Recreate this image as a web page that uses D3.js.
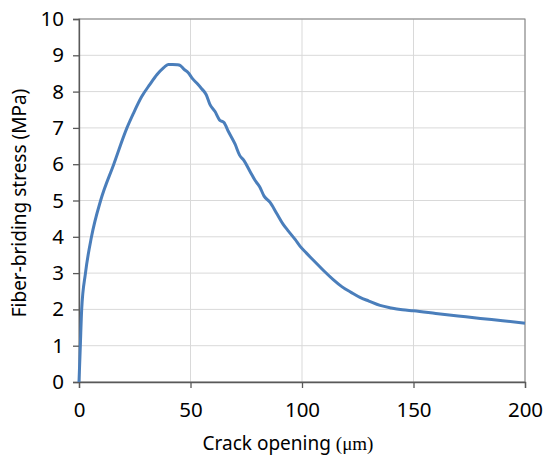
<!DOCTYPE html>
<html>
<head>
<meta charset="utf-8">
<script src="https://cdn.jsdelivr.net/npm/d3@7"></script>
<style>
  body { margin: 0; background: #fff; }
  text { font-family: "Noto Sans", "Noto Sans CJK KR", sans-serif; fill: #000; }
</style>
</head>
<body>
<div id="chart"></div>
<script>
// crack opening (um) vs fiber-bridging stress (MPa)
const openingX = [0, 0.6, 1.2, 2.9, 5.6, 9.7, 15.6, 21.5, 24.4, 28, 31.8, 35, 38, 40, 42, 44, 45.3, 47, 49,
  51, 53, 55, 57, 58.7, 61, 63, 65, 67, 70, 72, 74, 76.7, 79, 81, 83, 85.7, 88.6, 91.5, 94, 97, 99,
  102, 106, 110, 114, 118, 122, 126, 130, 135, 140, 145, 150, 160, 170, 180, 190, 200];
const stressY = [0, 1, 2, 3, 4, 5, 6, 7, 7.4, 7.85, 8.2, 8.47, 8.66, 8.75, 8.75, 8.74, 8.72, 8.62, 8.52,
  8.35, 8.22, 8.08, 7.92, 7.65, 7.45, 7.22, 7.15, 6.9, 6.55, 6.25, 6.1, 5.8, 5.55, 5.38, 5.12, 4.95, 4.65, 4.35, 4.15, 3.92, 3.75,
  3.55, 3.3, 3.05, 2.82, 2.62, 2.47, 2.33, 2.23, 2.11, 2.04, 1.99, 1.96, 1.89, 1.82, 1.75, 1.69, 1.62];
const xTicks = [0, 50, 100, 150, 200];
const yTicks = [0, 1, 2, 3, 4, 5, 6, 7, 8, 9, 10];

const width = 550, height = 466;
const margin = {top: 19, right: 25, bottom: 84, left: 79};
const innerW = width - margin.left - margin.right;
const innerH = height - margin.top - margin.bottom;

const svg = d3.select("#chart").append("svg")
  .attr("width", width)
  .attr("height", height);

const g = svg.append("g").attr("transform", `translate(${margin.left},${margin.top})`);

const x = d3.scaleLinear().domain([0, 200]).range([0, innerW]);
const y = d3.scaleLinear().domain([0, 10]).range([innerH, 0]);

// gridlines
g.append("g").selectAll("line").data(yTicks.slice(1)).enter().append("line")
  .attr("x1", 0).attr("x2", innerW)
  .attr("y1", d => y(d)).attr("y2", d => y(d))
  .attr("stroke", "#d9d9d9").attr("stroke-width", 1);
g.append("g").selectAll("line").data(xTicks.slice(1)).enter().append("line")
  .attr("y1", 0).attr("y2", innerH)
  .attr("x1", d => x(d)).attr("x2", d => x(d))
  .attr("stroke", "#d9d9d9").attr("stroke-width", 1);

// plot frame
g.append("rect")
  .attr("x", 0).attr("y", 0).attr("width", innerW).attr("height", innerH)
  .attr("fill", "none").attr("stroke", "#7f7f7f").attr("stroke-width", 1);

const xAxis = g.append("g")
  .attr("transform", `translate(0,${innerH})`)
  .call(d3.axisBottom(x).tickValues(xTicks).tickSize(6).tickPadding(14));
const yAxis = g.append("g")
  .call(d3.axisLeft(y).tickValues(yTicks).tickSize(6).tickPadding(9));

[xAxis, yAxis].forEach(a => {
  a.selectAll("path, line").attr("stroke", "#595959").attr("stroke-width", 1.3);
  a.selectAll("text").attr("font-size", 20.5).attr("fill", "#000")
    .style("font-family", '"Noto Sans", sans-serif');
});

// the curve
const line = d3.line()
  .x((d, i) => x(openingX[i]))
  .y(d => y(d))
  .curve(d3.curveMonotoneX);

g.append("path")
  .datum(stressY)
  .attr("d", line)
  .attr("fill", "none")
  .attr("stroke", "#4a7ebb")
  .attr("stroke-width", 3)
  .attr("stroke-linejoin", "round");

// axis titles
const xt = svg.append("text")
  .attr("x", 288)
  .attr("y", 450)
  .attr("text-anchor", "middle")
  .attr("font-size", 19);
xt.append("tspan").text("Crack opening ");
xt.append("tspan").text("(μm)")
  .style("font-family", '"Liberation Serif", "Times New Roman", serif');

svg.append("text")
  .attr("transform", `translate(26,203) rotate(-90)`)
  .attr("text-anchor", "middle")
  .attr("font-size", 19)
  .text("Fiber-briding stress (MPa)");
</script>
</body>
</html>
